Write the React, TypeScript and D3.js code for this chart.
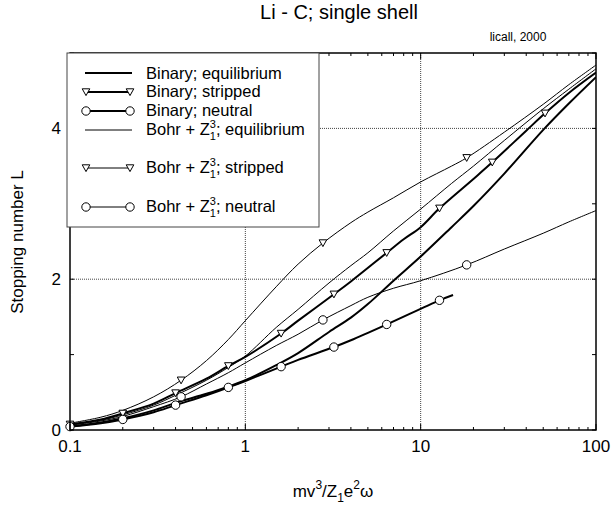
import React from "react";
import * as d3 from "d3";

// ---------- data ----------
const BIN_EQ_X = [0.1, 0.15, 0.2, 0.3, 0.4, 0.6, 0.8, 1, 1.5, 2, 3, 4, 5, 7, 10, 15, 20, 30, 50, 70, 100];
const BIN_EQ_L = [0.05, 0.1, 0.155, 0.26, 0.36, 0.48, 0.575, 0.66, 0.86, 1.02, 1.3, 1.49, 1.67, 1.98, 2.3, 2.69, 2.97, 3.4, 3.98, 4.33, 4.68];

const BIN_STR_X = [0.1, 0.15, 0.2, 0.3, 0.4, 0.6, 0.8, 1, 1.6, 2, 3.2, 4, 6.4, 8, 10, 12.8, 20, 25.6, 40, 51.2, 70, 100];
const BIN_STR_L = [0.075, 0.14, 0.22, 0.35, 0.49, 0.68, 0.85, 0.97, 1.28, 1.45, 1.8, 1.97, 2.35, 2.53, 2.69, 2.94, 3.33, 3.55, 3.97, 4.2, 4.47, 4.74];

const BIN_NEU_X = [0.1, 0.15, 0.2, 0.3, 0.4, 0.6, 0.8, 1, 1.6, 2, 3.2, 4, 6.4, 12.8, 15.3];
const BIN_NEU_L = [0.045, 0.09, 0.14, 0.235, 0.33, 0.46, 0.565, 0.65, 0.84, 0.93, 1.1, 1.19, 1.4, 1.72, 1.79];

const BOHR_EQ_X = [0.1, 0.15, 0.2, 0.3, 0.4, 0.6, 0.8, 1, 1.5, 2, 3, 4, 5, 7, 10, 15, 20, 30, 50, 70, 100];
const BOHR_EQ_L = [0.07, 0.13, 0.2, 0.33, 0.46, 0.66, 0.83, 0.98, 1.36, 1.6, 1.95, 2.18, 2.35, 2.64, 2.93, 3.27, 3.5, 3.84, 4.26, 4.52, 4.79];

const BOHR_STR_X = [0.1, 0.15, 0.2, 0.3, 0.43, 0.6, 0.8, 1, 1.5, 2, 2.77, 4, 5, 7, 10, 15, 18.3, 30, 50, 70, 100];
const BOHR_STR_L = [0.09, 0.17, 0.26, 0.44, 0.66, 0.92, 1.2, 1.45, 1.9, 2.2, 2.48, 2.75, 2.89, 3.08, 3.29, 3.5, 3.61, 3.95, 4.32, 4.58, 4.84];

const BOHR_NEU_X = [0.1, 0.15, 0.2, 0.3, 0.43, 0.6, 0.8, 1, 1.5, 2, 2.77, 4, 5, 7, 10, 18.3, 30, 50, 70, 100];
const BOHR_NEU_L = [0.065, 0.12, 0.18, 0.31, 0.44, 0.61, 0.76, 0.89, 1.12, 1.27, 1.46, 1.65, 1.76, 1.88, 1.98, 2.19, 2.4, 2.61, 2.76, 2.91];

const BIN_STR_MARKS = [0.1, 0.2, 0.4, 0.8, 1.6, 3.2, 6.4, 12.8, 25.6, 51.2];
const BIN_NEU_MARKS = [0.1, 0.2, 0.4, 0.8, 1.6, 3.2, 6.4, 12.8];
const BOHR_STR_MARKS = [0.43, 2.77, 18.3];
const BOHR_NEU_MARKS = [0.43, 2.77, 18.3];

const X_TICK_LABELS = ["0.1", "1", "10", "100"];
const X_TICK_VALUES = [0.1, 1, 10, 100];
const Y_TICK_VALUES = [0, 1, 2, 3, 4, 5];
const Y_LABELED = [0, 2, 4];
const X_GRID = [1, 10];
const Y_GRID = [2, 4];

const FONT = "'Liberation Sans', Arial, Helvetica, sans-serif";

type Marker = "none" | "tri" | "circ";

interface Series {
  xs: number[];
  ls: number[];
  marks: number[];
  marker: Marker;
  width: number;
}

const SERIES: Series[] = [
  { xs: BIN_EQ_X, ls: BIN_EQ_L, marks: [], marker: "none", width: 2 },
  { xs: BIN_STR_X, ls: BIN_STR_L, marks: BIN_STR_MARKS, marker: "tri", width: 2 },
  { xs: BIN_NEU_X, ls: BIN_NEU_L, marks: BIN_NEU_MARKS, marker: "circ", width: 2 },
  { xs: BOHR_EQ_X, ls: BOHR_EQ_L, marks: [], marker: "none", width: 1 },
  { xs: BOHR_STR_X, ls: BOHR_STR_L, marks: BOHR_STR_MARKS, marker: "tri", width: 1 },
  { xs: BOHR_NEU_X, ls: BOHR_NEU_L, marks: BOHR_NEU_MARKS, marker: "circ", width: 1 },
];

const LEGEND_ROWS = [
  { y: 73, tY: 79, marker: "none" as Marker, width: 2, pre: "Binary; equilibrium", z: false, post: "" },
  { y: 92, tY: 97, marker: "tri" as Marker, width: 2, pre: "Binary; stripped", z: false, post: "" },
  { y: 111, tY: 116, marker: "circ" as Marker, width: 2, pre: "Binary; neutral", z: false, post: "" },
  { y: 130, tY: 135, marker: "none" as Marker, width: 1, pre: "Bohr + Z", z: true, post: "; equilibrium" },
  { y: 168, tY: 173, marker: "tri" as Marker, width: 1, pre: "Bohr + Z", z: true, post: "; stripped" },
  { y: 207, tY: 212, marker: "circ" as Marker, width: 1, pre: "Bohr + Z", z: true, post: "; neutral" },
];

const W = 612;
const H = 506;
const L = 70;
const R = 596;
const T = 53;
const B = 430;

function MarkerShape({ kind, x, y }: { kind: Marker; x: number; y: number }) {
  if (kind === "tri") {
    const p = `${x - 3.8},${y - 3.2} ${x + 3.8},${y - 3.2} ${x},${y + 3.6}`;
    return <polygon points={p} fill="white" stroke="black" strokeWidth={1} />;
  }
  if (kind === "circ") {
    return <circle cx={x} cy={y} r={4.2} fill="white" stroke="black" strokeWidth={1} />;
  }
  return null;
}

export default function App() {
  const x = d3.scaleLog().domain([0.1, 100]).range([L, R]);
  const y = d3.scaleLinear().domain([0, 5]).range([B, T]);

  const line = d3
    .line<[number, number]>()
    .x((d) => x(d[0]))
    .y((d) => y(d[1]))
    .curve(d3.curveCatmullRom.alpha(0.5));

  const minorX = x.ticks(30).filter((v) => !X_TICK_VALUES.includes(v));

  return (
    <svg width={W} height={H} style={{ display: "block", position: "absolute", left: 0, top: 0, background: "white" }}>
      <rect x={0} y={0} width={W} height={H} fill="white" />
      <defs>
        <clipPath id="plot">
          <rect x={L} y={T} width={R - L} height={B - T} />
        </clipPath>
      </defs>

      {/* grid */}
      {X_GRID.map((v) => (
        <line key={"gx" + v} x1={x(v)} x2={x(v)} y1={T} y2={B} stroke="#444" strokeWidth={1} strokeDasharray="1,1" />
      ))}
      {Y_GRID.map((v) => (
        <line key={"gy" + v} x1={L} x2={R} y1={y(v)} y2={y(v)} stroke="#444" strokeWidth={1} strokeDasharray="1,1" />
      ))}

      {/* curves */}
      <g clipPath="url(#plot)">
        {SERIES.map((s, i) => (
          <path
            key={"s" + i}
            d={line(s.xs.map((v, j) => [v, s.ls[j]] as [number, number])) || ""}
            fill="none"
            stroke="black"
            strokeWidth={s.width}
          />
        ))}
      </g>
      {SERIES.map((s, i) =>
        s.marks.map((m, k) => {
          const idx = s.xs.indexOf(m);
          return <MarkerShape key={"m" + i + "_" + k} kind={s.marker} x={x(m)} y={y(s.ls[idx])} />;
        })
      )}

      {/* ticks */}
      {X_TICK_VALUES.map((v) => (
        <g key={"xt" + v}>
          <line x1={x(v)} x2={x(v)} y1={B} y2={B - 6} stroke="black" />
          <line x1={x(v)} x2={x(v)} y1={T} y2={T + 6} stroke="black" />
        </g>
      ))}
      {minorX.map((v, i) => (
        <g key={"xm" + i}>
          <line x1={x(v)} x2={x(v)} y1={B} y2={B - 3} stroke="black" />
          <line x1={x(v)} x2={x(v)} y1={T} y2={T + 3} stroke="black" />
        </g>
      ))}
      {Y_TICK_VALUES.map((v) => (
        <g key={"yt" + v}>
          <line x1={L} x2={L + 4} y1={y(v)} y2={y(v)} stroke="black" />
          <line x1={R} x2={R - 4} y1={y(v)} y2={y(v)} stroke="black" />
        </g>
      ))}

      {/* frame */}
      <rect x={L} y={T} width={R - L} height={B - T} fill="none" stroke="black" strokeWidth={1.5} />

      {/* tick labels */}
      {X_TICK_VALUES.map((v, i) => (
        <text key={"xl" + v} x={x(v)} y={452} fontFamily={FONT} fontSize={17} textAnchor="middle">
          {X_TICK_LABELS[i]}
        </text>
      ))}
      {Y_LABELED.map((v) => (
        <text key={"yl" + v} x={61} y={y(v) + 6} fontFamily={FONT} fontSize={17} textAnchor="end">
          {String(v)}
        </text>
      ))}

      {/* legend */}
      <rect x={67} y={53} width={252} height={174} fill="white" stroke="#444" strokeWidth={1} />
      {LEGEND_ROWS.map((r, i) => (
        <g key={"lg" + i}>
          <line x1={85} x2={132} y1={r.y} y2={r.y} stroke="black" strokeWidth={r.width} />
          {r.marker !== "none" && (
            <>
              <MarkerShape kind={r.marker} x={86} y={r.y} />
              <MarkerShape kind={r.marker} x={130} y={r.y} />
            </>
          )}
          <text x={146} y={r.tY} fontFamily={FONT} fontSize={16.5}>
            {r.z ? (
              <>
                <tspan>{r.pre}</tspan>
                <tspan dy={-7} fontSize={11}>3</tspan>
                <tspan dx={-6.1} dy={12} fontSize={11}>1</tspan>
                <tspan dy={-5}>{r.post}</tspan>
              </>
            ) : (
              r.pre
            )}
          </text>
        </g>
      ))}

      {/* titles */}
      <text x={339} y={19} fontFamily={FONT} fontSize={20} textAnchor="middle">
        Li - C; single shell
      </text>
      <text x={518} y={41} fontFamily={FONT} fontSize={12} textAnchor="middle">
        licall, 2000
      </text>
      <text x={333} y={497} fontFamily={FONT} fontSize={17} textAnchor="middle">
        <tspan>mv</tspan>
        <tspan dy={-8} fontSize={12}>3</tspan>
        <tspan dy={8}>/Z</tspan>
        <tspan dy={5} fontSize={12}>1</tspan>
        <tspan dy={-5}>e</tspan>
        <tspan dy={-8} fontSize={12}>2</tspan>
        <tspan dy={8}>ω</tspan>
      </text>
      <text
        transform="translate(23,242) rotate(-90)"
        fontFamily={FONT}
        fontSize={17}
        textAnchor="middle"
      >
        Stopping number L
      </text>
    </svg>
  );
}
